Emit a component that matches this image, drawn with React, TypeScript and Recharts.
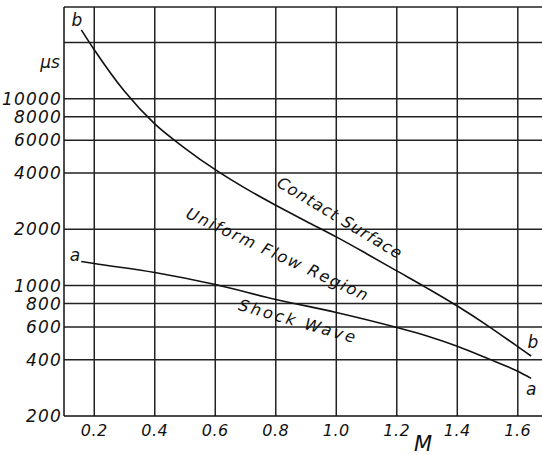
import { LineChart, Line, XAxis, YAxis, ReferenceLine, ReferenceDot } from 'recharts';

// Mach number ticks and time ticks (microseconds, log scale)
const machTicks = [0.2, 0.4, 0.6, 0.8, 1.0, 1.2, 1.4, 1.6];
const timeTicks = [200, 400, 600, 800, 1000, 2000, 4000, 6000, 8000, 10000];
const extraTimeGrid = [20000];

// curve b-b: contact surface
const contactM = [0.157, 0.2, 0.3, 0.4, 0.5, 0.6, 0.7, 0.8, 0.9, 1.0, 1.1, 1.2, 1.3, 1.4, 1.5, 1.6, 1.644];
const contactT = [23400, 18300, 10960, 7330, 5430, 4170, 3310, 2690, 2210, 1820, 1480, 1197, 968, 776, 610, 470, 419];

// curve a-a: shock wave
const shockM = [0.157, 0.2, 0.4, 0.6, 0.8, 1.0, 1.2, 1.3, 1.4, 1.5, 1.6, 1.644];
const shockT = [1344, 1311, 1174, 1012, 842, 717, 596, 537, 473, 407, 347, 318];

const contact = contactM.map((m, i) => ({ m, t: contactT[i] }));
const shock = shockM.map((m, i) => ({ m, t: shockT[i] }));

const FONT = '"DejaVu Sans", sans-serif';
const INK = '#111';

function note(text: string, size: number, angle = 0, spacing = 0, anchor = 'middle') {
  return (p: any) => (
    <text
      x={p.cx}
      y={p.cy}
      transform={angle ? `rotate(${angle} ${p.cx} ${p.cy})` : undefined}
      textAnchor={anchor}
      dominantBaseline="central"
      fontFamily={FONT}
      fontStyle="italic"
      fontSize={size}
      letterSpacing={spacing}
      fill={INK}
    >
      {text}
    </text>
  );
}

export default function App() {
  return (
    <div style={{ position: 'absolute', left: 0, top: 0, background: '#fff' }}>
      <LineChart width={542} height={455} margin={{ top: 7, right: 0, bottom: 0, left: 0 }}>
        <XAxis
          dataKey="m"
          type="number"
          domain={[0.1, 1.68]}
          ticks={machTicks}
          interval={0}
          allowDataOverflow
          height={39}
          tickSize={0}
          tickMargin={9}
          axisLine={{ stroke: INK, strokeWidth: 1.5 }}
          tick={{ fill: INK, fontSize: 16, fontStyle: 'italic', fontFamily: FONT, letterSpacing: 0.5 }}
          tickFormatter={(v: number) => v.toFixed(1)}
        />
        <YAxis
          dataKey="t"
          type="number"
          scale="log"
          domain={[200, 31000]}
          ticks={timeTicks}
          interval={0}
          allowDataOverflow
          width={64}
          tickSize={0}
          tickMargin={2}
          axisLine={{ stroke: INK, strokeWidth: 1.5 }}
          tick={{ fill: INK, fontSize: 17, fontStyle: 'italic', fontFamily: FONT, letterSpacing: 1.2 }}
        />
        {[...timeTicks.slice(1), ...extraTimeGrid, 31000].map((v) => (
          <ReferenceLine key={'h' + v} y={v} stroke="#222" strokeWidth={1.5} />
        ))}
        {machTicks.map((v) => (
          <ReferenceLine key={'v' + v} x={v} stroke="#222" strokeWidth={1.5} />
        ))}
        <Line data={contact} dataKey="t" type="monotone" stroke={INK} strokeWidth={1.6} dot={false} isAnimationActive={false} />
        <Line data={shock} dataKey="t" type="monotone" stroke={INK} strokeWidth={1.6} dot={false} isAnimationActive={false} />
        <ReferenceDot x={1.012} y={2300} r={0} ifOverflow="visible" shape={note('Contact Surface', 16, 31, 1)} />
        <ReferenceDot x={0.807} y={1465} r={0} ifOverflow="visible" shape={note('Uniform Flow Region', 16, 25, 1.8)} />
        <ReferenceDot x={0.874} y={642} r={0} ifOverflow="visible" shape={note('Shock  Wave', 16, 16, 2.6)} />
        <ReferenceDot x={0.143} y={26500} r={0} ifOverflow="visible" shape={note('b', 17)} />
        <ReferenceDot x={1.65} y={496} r={0} ifOverflow="visible" shape={note('b', 17)} />
        <ReferenceDot x={0.136} y={1465} r={0} ifOverflow="visible" shape={note('a', 17)} />
        <ReferenceDot x={1.644} y={278} r={0} ifOverflow="visible" shape={note('a', 17)} />
        <ReferenceDot x={0.054} y={15700} r={0} ifOverflow="visible" shape={note('μs', 17)} />
        <ReferenceDot x={1.287} y={141} r={0} ifOverflow="visible" shape={note('M', 21)} />
      </LineChart>
    </div>
  );
}
